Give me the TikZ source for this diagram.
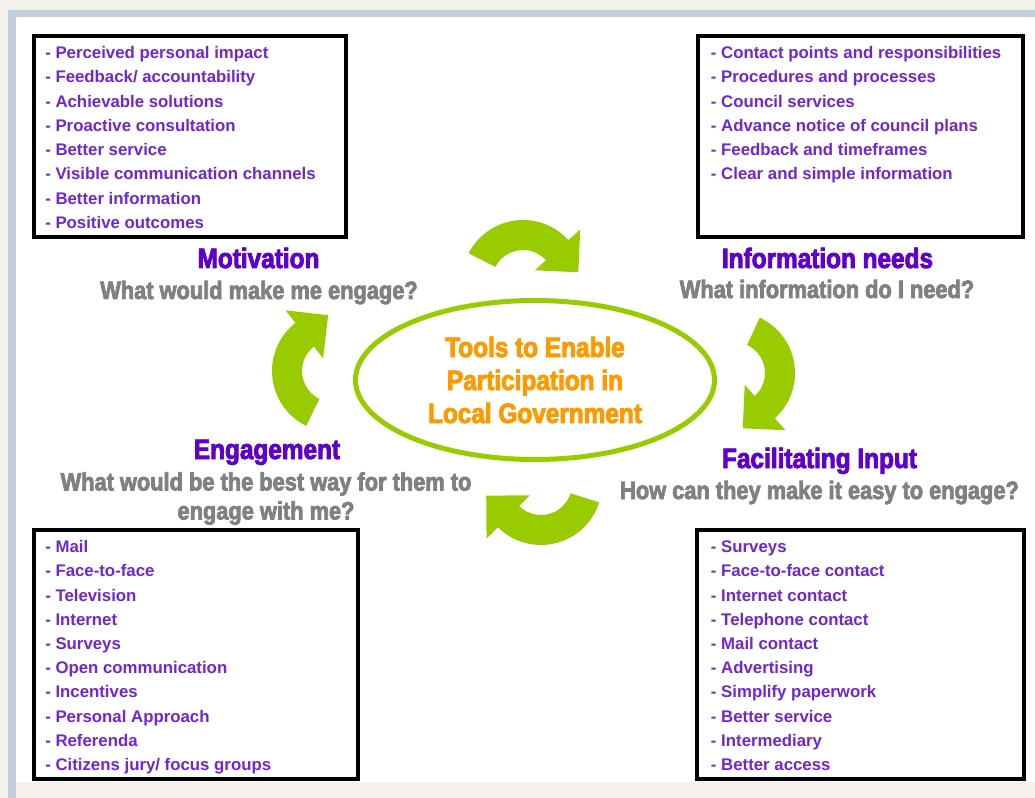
\documentclass[tikz,border=0pt]{standalone}
\usepackage{fontspec}
\setmainfont{Liberation Sans}
\newfontfamily\impactfont[FakeStretch=0.87,BoldFeatures={FakeBold=3}]{Liberation Sans}
\usepackage{tikz}
\usetikzlibrary{positioning, shapes.geometric}

\definecolor{pagebg}{RGB}{244,241,237}
\definecolor{framecol}{RGB}{194,206,218}
\definecolor{itempurple}{RGB}{112,38,214}
\definecolor{headpurple}{RGB}{96,0,204}
\definecolor{subgray}{RGB}{128,128,128}
\definecolor{huborange}{RGB}{255,153,0}
\definecolor{cyclegreen}{RGB}{153,204,0}

\tikzset{
  listbox/.style={draw=black, line width=3pt, fill=white, inner sep=0pt},
  item/.style={anchor=base west, inner sep=0pt, text=itempurple, font=\fontsize{12.6}{15}\selectfont\bfseries},
  headtext/.style={anchor=base, inner sep=0pt, text=headpurple, font=\impactfont\bfseries\fontsize{21}{24}\selectfont},
  subtext/.style={anchor=base, inner sep=0pt, align=center, text=subgray, font=\impactfont\bfseries\fontsize{18.8}{21.75}\selectfont},
  hub/.style={ellipse, draw=cyclegreen, line width=3.75pt, inner sep=0pt, minimum width=269.25pt, minimum height=119.25pt, align=center, text=huborange, font=\impactfont\bfseries\fontsize{21}{24.75}\selectfont},
  arrowfill/.style={fill=cyclegreen}
}

% block arrow bent round a centre: centre, start angle, end angle
\newcommand{\cyclearrow}[3]{\fill[arrowfill, shift={#1}] (#2:61) arc[start angle=#2, end angle=#3, radius=61] -- (#3:77) -- ({#3+33}:56) -- (#3:16) -- (#3:31) arc[start angle=#3, end angle=#2, radius=31] -- cycle;}

\begin{document}
\begin{tikzpicture}[x=0.75pt,y=0.75pt,yscale=-1,xscale=1]
        \useasboundingbox (0,0) rectangle (1035,798);
        % frame of the slide
        \fill[pagebg] (0,0) rectangle (1035,798);
        \fill[framecol] (8,10) rectangle (16,798);
        \fill[framecol] (8,10) rectangle (1035,17);
        \fill[white] (16,17) rectangle (1035,782);
        % list boxes
        \node[listbox, minimum width=234pt, minimum height=150.75pt] (motbox) at (190,136.5) {};
        \node[listbox, minimum width=243.75pt, minimum height=150.75pt] (infobox) at (860.5,136.5) {};
        \node[listbox, minimum width=243pt, minimum height=186.75pt] (engbox) at (196,654.5) {};
        \node[listbox, minimum width=245.25pt, minimum height=186.75pt] (facbox) at (860.5,654.5) {};
        % cycle arrows
        \cyclearrow{(523,281)}{-153}{-42}
        \cyclearrow{(734,373)}{-65}{48}
        \cyclearrow{(541,484)}{17.5}{135}
        \cyclearrow{(333,371)}{116}{232}
        % centre
        \node[hub] (hub) at (535,380) {Tools to Enable\\Participation in\\Local Government};
        % headings
        \node[headtext] (motiv) at (258.5,268) {Motivation};
        \node[subtext] (motivq) at (259,299) {What would make me engage?};
        \node[headtext] (info) at (827.5,268) {Information needs};
        \node[subtext] (infoq) at (827,298) {What information do I need?};
        \node[headtext] (facil) at (819.5,468) {Facilitating Input};
        \node[subtext] (facilq) at (819.5,499) {How can they make it easy to engage?};
        \node[headtext] (engage) at (267,459) {Engagement};
        \node[subtext, anchor=north] (engageq) at (266,472) {What would be the best way for them to\\engage with me?};
        % motivation list
        \node[item] (mot1) at (45,58.5) {- Perceived personal impact};
        \node[item] (mot2) at (45,82.8) {- Feedback/ accountability};
        \node[item] (mot3) at (45,107.1) {- Achievable solutions};
        \node[item] (mot4) at (45,131.4) {- Proactive consultation};
        \node[item] (mot5) at (45,155.7) {- Better service};
        \node[item] (mot6) at (45,180) {- Visible communication channels};
        \node[item] (mot7) at (45,204.3) {- Better information};
        \node[item] (mot8) at (45,228.6) {- Positive outcomes};
        % information list
        \node[item] (inf1) at (710.7,58.5) {- Contact points and responsibilities};
        \node[item] (inf2) at (710.7,82.8) {- Procedures and processes};
        \node[item] (inf3) at (710.7,107.1) {- Council services};
        \node[item] (inf4) at (710.7,131.4) {- Advance notice of council plans};
        \node[item] (inf5) at (710.7,155.7) {- Feedback and timeframes};
        \node[item] (inf6) at (710.7,180) {- Clear and simple information};
        % engagement list
        \node[item] (eng1) at (45,552.7) {- Mail};
        \node[item] (eng2) at (45,576.9) {- Face-to-face};
        \node[item] (eng3) at (45,601.1) {- Television};
        \node[item] (eng4) at (45,625.3) {- Internet};
        \node[item] (eng5) at (45,649.5) {- Surveys};
        \node[item] (eng6) at (45,673.7) {- Open communication};
        \node[item] (eng7) at (45,697.9) {- Incentives};
        \node[item] (eng8) at (45,722.1) {- Personal Approach};
        \node[item] (eng9) at (45,746.3) {- Referenda};
        \node[item] (eng10) at (45,770.5) {- Citizens jury/ focus groups};
        % facilitating list
        \node[item] (fac1) at (710.7,552.7) {- Surveys};
        \node[item] (fac2) at (710.7,576.9) {- Face-to-face contact};
        \node[item] (fac3) at (710.7,601.1) {- Internet contact};
        \node[item] (fac4) at (710.7,625.3) {- Telephone contact};
        \node[item] (fac5) at (710.7,649.5) {- Mail contact};
        \node[item] (fac6) at (710.7,673.7) {- Advertising};
        \node[item] (fac7) at (710.7,697.9) {- Simplify paperwork};
        \node[item] (fac8) at (710.7,722.1) {- Better service};
        \node[item] (fac9) at (710.7,746.3) {- Intermediary};
        \node[item] (fac10) at (710.7,770.5) {- Better access};
\end{tikzpicture}
\end{document}
